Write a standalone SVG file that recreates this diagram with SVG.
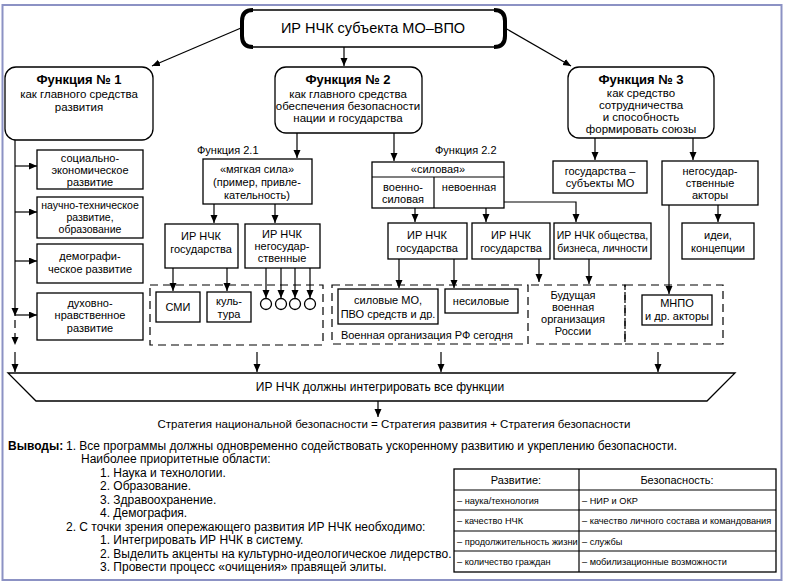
<svg xmlns="http://www.w3.org/2000/svg" width="786" height="585" viewBox="0 0 786 585">
<defs>
<marker id="ah" markerUnits="userSpaceOnUse" markerWidth="8" markerHeight="8" refX="8" refY="3.5" orient="auto">
<path d="M0,0 L8,3.5 L0,7 z" fill="#000"/>
</marker>
<style>
text{font-family:"Liberation Sans",Arial,sans-serif;fill:#000}
.box{fill:#fff;stroke:#000;stroke-width:1.3}
.dash{fill:none;stroke:#000;stroke-width:1.2;stroke-dasharray:8 5}
.ln{fill:none;stroke:#000;stroke-width:1.2}
.arr{marker-end:url(#ah)}
.c{text-anchor:middle}
.f105{font-size:10.5px}
.f11{font-size:11px}
.f115{font-size:11.5px}
.f12{font-size:12px}
.f9{font-size:9.2px}
.b{font-weight:bold}
</style>
</defs>
<rect x="0" y="0" width="786" height="585" fill="#fff"/>
<rect x="2.5" y="5" width="779" height="575" fill="none" stroke="#8c92c4" stroke-width="2"/>

<g id="top">
<rect class="box" x="242" y="10" width="263" height="37" rx="10" stroke-width="1.6"/>
<path d="M253,10 Q242,10 242,21 L242,36 Q242,47 253,47" fill="none" stroke="#000" stroke-width="4"/>
<path d="M494,10 Q505,10 505,21 L505,36 Q505,47 494,47" fill="none" stroke="#000" stroke-width="4"/>
<text class="c" x="373" y="33" font-size="14.5">ИР НЧК субъекта МО–ВПО</text>
</g>

<g id="f1">
<rect class="box" x="5" y="67" width="148" height="73" rx="11"/>
<text class="c b" x="79" y="84" font-size="13">Функция № 1</text>
<text class="c f115" x="79" y="98">как главного средства</text>
<text class="c f115" x="79" y="111">развития</text>
</g>
<g id="f2">
<rect class="box" x="275" y="67" width="147" height="66" rx="11"/>
<text class="c b" x="348" y="84" font-size="13">Функция № 2</text>
<text class="c f115" x="348" y="98">как главного средства</text>
<text class="c f115" x="348" y="110">обеспечения безопасности</text>
<text class="c f115" x="348" y="122">нации и государства</text>
</g>
<g id="f3">
<rect class="box" x="568" y="67" width="146" height="71" rx="11"/>
<text class="c b" x="641" y="84" font-size="13">Функция № 3</text>
<text class="c f115" x="641" y="97">как средство</text>
<text class="c f115" x="641" y="109">сотрудничества</text>
<text class="c f115" x="641" y="121">и способность</text>
<text class="c f115" x="641" y="133">формировать союзы</text>
</g>

<g id="left-col">
<rect class="box" x="37" y="150" width="106" height="39"/>
<text class="c f11" x="90" y="162">социально-</text>
<text class="c f11" x="90" y="174">экономическое</text>
<text class="c f11" x="90" y="186">развитие</text>
<rect class="box" x="37" y="197" width="106" height="41"/>
<text class="c f105" x="90" y="209">научно-техническое</text>
<text class="c f105" x="90" y="221">развитие,</text>
<text class="c f105" x="90" y="233">образование</text>
<rect class="box" x="37" y="244" width="106" height="39"/>
<text class="c f11" x="90" y="260">демографи-</text>
<text class="c f11" x="90" y="273">ческое развитие</text>
<rect class="box" x="37" y="293" width="106" height="47"/>
<text class="c f11" x="90" y="307">духовно-</text>
<text class="c f11" x="90" y="319">нравственное</text>
<text class="c f11" x="90" y="332">развитие</text>
</g>

<g id="f21">
<text class="f11" x="197" y="154">Функция 2.1</text>
<rect class="box" x="203" y="159" width="109" height="45"/>
<text class="c f11" x="257" y="173">«мягкая сила»</text>
<text class="c f11" x="257" y="186">(пример, привле-</text>
<text class="c f11" x="257" y="199">кательность)</text>
<rect class="box" x="165" y="224" width="73" height="44"/>
<text class="c f11" x="201" y="240">ИР НЧК</text>
<text class="c f11" x="201" y="253">государства</text>
<rect class="box" x="245" y="224" width="75" height="44"/>
<text class="c f11" x="282" y="238">ИР НЧК</text>
<text class="c f11" x="282" y="250">негосудар-</text>
<text class="c f11" x="282" y="262">ственные</text>
<rect class="dash" x="150" y="285" width="173" height="60"/>
<rect class="box" x="156" y="292" width="44" height="30"/>
<text class="c f11" x="178" y="311">СМИ</text>
<rect class="box" x="207" y="292" width="44" height="30"/>
<text class="c f11" x="229" y="305">куль-</text>
<text class="c f11" x="229" y="318">тура</text>
<circle class="box" cx="266" cy="304" r="5.5"/>
<circle class="box" cx="281" cy="304" r="5.5"/>
<circle class="box" cx="295" cy="304" r="5.5"/>
<circle class="box" cx="310" cy="304" r="5.5"/>
</g>

<g id="f22">
<text class="f11" x="435" y="154">Функция 2.2</text>
<rect class="box" x="372" y="162" width="132" height="46"/>
<line class="ln" x1="372" y1="177" x2="504" y2="177"/>
<line class="ln" x1="434" y1="177" x2="434" y2="208"/>
<text class="c f11" x="438" y="173">«силовая»</text>
<text class="c f11" x="403" y="191">военно-</text>
<text class="c f11" x="403" y="203">силовая</text>
<text class="c f11" x="469" y="191">невоенная</text>
<rect class="box" x="388" y="223" width="79" height="36"/>
<text class="c f11" x="427" y="239">ИР НЧК</text>
<text class="c f11" x="427" y="252">государства</text>
<rect class="box" x="472" y="223" width="78" height="36"/>
<text class="c f11" x="511" y="239">ИР НЧК</text>
<text class="c f11" x="511" y="252">государства</text>
<rect class="dash" x="332" y="285" width="196" height="59"/>
<rect class="box" x="338" y="289" width="100" height="35"/>
<text class="c f11" x="388" y="304">силовые МО,</text>
<text class="c f11" x="388" y="318">ПВО средств и др.</text>
<rect class="box" x="445" y="289" width="73" height="24"/>
<text class="c f11" x="481" y="305">несиловые</text>
<text class="c f11" x="427" y="339">Военная организация РФ сегодня</text>
</g>

<g id="f3-sub">
<rect class="box" x="553" y="161" width="94" height="32"/>
<text class="c f11" x="600" y="175">государства –</text>
<text class="c f11" x="600" y="187">субъекты МО</text>
<rect class="box" x="662" y="161" width="96" height="44"/>
<text class="c f11" x="710" y="175">негосудар-</text>
<text class="c f11" x="710" y="187">ственные</text>
<text class="c f11" x="710" y="199">акторы</text>
<rect class="box" x="682" y="223" width="72" height="36"/>
<text class="c f11" x="718" y="239">идеи,</text>
<text class="c f11" x="718" y="252">концепции</text>
<rect class="box" x="554" y="223" width="97" height="36"/>
<text class="c f105" x="602.5" y="239">ИР НЧК общества,</text>
<text class="c f105" x="602.5" y="252">бизнеса, личности</text>
<path class="dash" d="M531,285 H625 V344 H531"/>
<text class="c f11" x="573" y="299">Будущая</text>
<text class="c f11" x="573" y="311">военная</text>
<text class="c f11" x="573" y="323">организация</text>
<text class="c f11" x="573" y="335">России</text>
<rect class="dash" x="625" y="285" width="98" height="59"/>
<rect class="box" x="642" y="295" width="70" height="30"/>
<text class="c f11" x="677" y="307">МНПО</text>
<text class="c f11" x="677" y="320">и др. акторы</text>
</g>

<g id="integrate">
<polygon class="box" points="8,373 735,373 707,401 36,401"/>
<text class="c f12" x="380" y="391">ИР НЧК должны интегрировать все функции</text>
<text class="c f115" x="394" y="428">Стратегия национальной безопасности = Стратегия развития + Стратегия безопасности</text>
</g>

<g id="connectors">
<line class="ln arr" x1="241" y1="28" x2="152" y2="66"/>
<line class="ln arr" x1="505" y1="28" x2="571" y2="66"/>
<line class="ln arr" x1="344" y1="47" x2="344" y2="66"/>
<line class="ln arr" x1="15" y1="140" x2="15" y2="316"/>
<line class="ln arr" x1="15" y1="166" x2="37" y2="166"/>
<line class="ln arr" x1="15" y1="212" x2="37" y2="212"/>
<line class="ln arr" x1="15" y1="261" x2="37" y2="261"/>
<line class="ln arr" x1="15" y1="315" x2="37" y2="315"/>
<line class="dash arr" x1="15" y1="320" x2="15" y2="345"/>
<line class="ln arr" x1="297" y1="133" x2="297" y2="158"/>
<line class="ln arr" x1="214" y1="204" x2="214" y2="223"/>
<line class="ln arr" x1="275" y1="204" x2="275" y2="223"/>
<line class="ln arr" x1="173" y1="268" x2="173" y2="291"/>
<line class="ln arr" x1="227" y1="268" x2="227" y2="291"/>
<line class="ln arr" x1="266" y1="268" x2="266" y2="298"/>
<line class="ln arr" x1="281" y1="268" x2="281" y2="298"/>
<line class="ln arr" x1="295" y1="268" x2="295" y2="298"/>
<line class="ln arr" x1="310" y1="268" x2="310" y2="298"/>
<line class="ln arr" x1="394" y1="133" x2="394" y2="161"/>
<path class="ln arr" d="M504,202 H576 V222"/>
<line class="ln arr" x1="415" y1="208" x2="415" y2="222"/>
<line class="ln arr" x1="486" y1="208" x2="486" y2="222"/>
<line class="ln arr" x1="399" y1="259" x2="399" y2="288"/>
<line class="ln arr" x1="454" y1="259" x2="454" y2="288"/>
<line class="ln arr" x1="539" y1="259" x2="539" y2="282"/>
<line class="ln arr" x1="595" y1="138" x2="595" y2="160"/>
<line class="ln arr" x1="693" y1="138" x2="693" y2="160"/>
<line class="ln arr" x1="718" y1="205" x2="718" y2="222"/>
<line class="ln arr" x1="669" y1="205" x2="669" y2="294"/>
<line class="ln arr" x1="589" y1="259" x2="589" y2="284"/>
<line class="ln arr" x1="15" y1="352" x2="15" y2="372"/>
<line class="ln arr" x1="257" y1="352" x2="257" y2="372"/>
<line class="ln arr" x1="441" y1="352" x2="441" y2="372"/>
<line class="ln arr" x1="658" y1="352" x2="658" y2="372"/>
<line class="ln arr" x1="378" y1="401" x2="378" y2="417"/>
</g>

<g id="conclusions" class="f12">
<text x="8" y="450"><tspan class="b">Выводы:</tspan></text>
<text x="66" y="450">1. Все программы должны одновременно содействовать ускоренному развитию и укреплению безопасности.</text>
<text x="81" y="463.4">Наиболее приоритетные области:</text>
<text x="100" y="476.9">1. Наука и технологии.</text>
<text x="100" y="490.3">2. Образование.</text>
<text x="100" y="503.8">3. Здравоохранение.</text>
<text x="100" y="517.2">4. Демография.</text>
<text x="66" y="530.7">2. С точки зрения опережающего развития ИР НЧК необходимо:</text>
<text x="100" y="544.1">1. Интегрировать ИР НЧК в систему.</text>
<text x="100" y="557.6">2. Выделить акценты на культурно-идеологическое лидерство.</text>
<text x="100" y="571">3. Провести процесс «очищения» правящей элиты.</text>
</g>

<g id="table">
<rect class="box" x="454" y="469" width="322" height="103" stroke-width="1.2"/>
<line class="ln" x1="454" y1="490" x2="776" y2="490"/>
<line class="ln" x1="454" y1="510" x2="776" y2="510"/>
<line class="ln" x1="454" y1="531" x2="776" y2="531"/>
<line class="ln" x1="454" y1="551" x2="776" y2="551"/>
<line class="ln" x1="579" y1="469" x2="579" y2="572"/>
<text class="c f11" x="516" y="484">Развитие:</text>
<text class="c f11" x="677" y="484">Безопасность:</text>
<text class="f9" x="457" y="504">– наука/технология</text>
<text class="f9" x="582" y="504">– НИР и ОКР</text>
<text class="f9" x="457" y="524">– качество НЧК</text>
<text class="f9" x="582" y="524">– качество личного состава и командования</text>
<text class="f9" x="457" y="545">– продолжительность жизни</text>
<text class="f9" x="582" y="545">– службы</text>
<text class="f9" x="457" y="565">– количество граждан</text>
<text class="f9" x="582" y="565">– мобилизационные возможности</text>
</g>
</svg>
